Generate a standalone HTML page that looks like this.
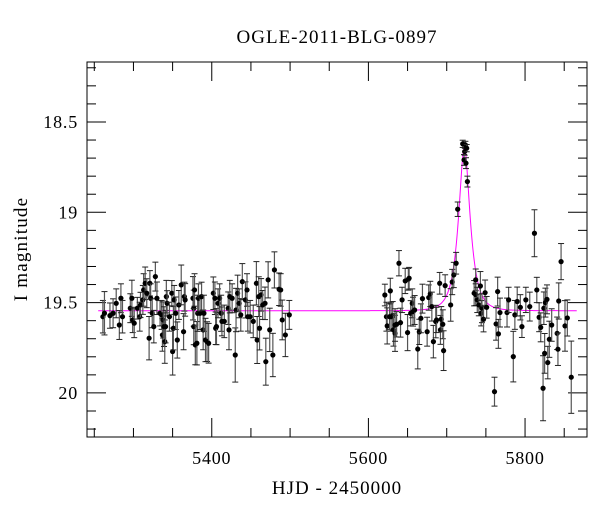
<!DOCTYPE html>
<html><head><meta charset="utf-8"><style>
html,body{margin:0;padding:0;background:#fff;}
svg text{font-family:"Liberation Serif",serif;fill:#000;}
</style></head><body>
<svg id="chart" width="600" height="512" viewBox="0 0 600 512">
<rect width="600" height="512" fill="#fff"/>
<text x="337" y="43" font-size="19" letter-spacing="1" text-anchor="middle">OGLE-2011-BLG-0897</text>
<text x="337" y="494" font-size="19" letter-spacing="1" text-anchor="middle">HJD - 2450000</text>
<text transform="translate(27,249) rotate(-90)" font-size="19" letter-spacing="1.2" text-anchor="middle">I magnitude</text>
<g id="axes"></g><g id="marks"></g>
</svg>
<script>
const tData=[5261,5263,5270,5274,5278,5282,5284,5286,5296,5298,5299,5301,5305,5308,5309,5312,5313,5315,5317,5320,5321,5322,5324,5326,5328,5330,5334,5336,5337,5338,5339,5340,5341,5342,5343,5346,5349,5350,5351,5352,5354,5356,5358,5361,5364,5365,5366,5376,5377,5377,5378,5379,5381,5382,5383,5385,5387,5389,5390,5392,5394,5396,5402,5404,5405,5406,5408,5410,5412,5413,5416,5421,5422,5423,5426,5430,5431,5433,5435,5437,5439,5443,5445,5446,5449,5453,5457,5458,5460,5461,5463,5465,5468,5469,5472,5474,5478,5480,5486,5488,5490,5494,5499,
5621,5623,5624,5627,5628,5629,5631,5632,5634,5634,5636,5639,5641,5643,5647,5650,5651,5652,5654,5656,5657,5659,5663,5665,5667,5669,5675,5677,5679,5681,5683,5686,5687,5691,5692,5693,5695,5696,5698,5705,5707,5709,5712,5714,5720.4,5722.1,5722.9,5723.8,5724.6,5725.5,5726.4,5735,5737,5737,5739,5741,5743,5744,5745,5747,5749,5751,5761,5763,5765,5766,5768,5777,5779,5785,5787,5790,5794,5796,5801,5806,5812,5815,5818,5820,5823,5824,5825,5826,5828,5829,5831,5834,5841,5842,5843,5846,5851,5854,5859];
const magData=[19.578,19.559,19.572,19.559,19.504,19.624,19.476,19.578,19.531,19.476,19.596,19.614,19.531,19.578,19.513,19.485,19.430,19.393,19.448,19.697,19.393,19.476,19.559,19.633,19.356,19.476,19.559,19.568,19.679,19.596,19.633,19.716,19.633,19.467,19.504,19.578,19.448,19.771,19.642,19.485,19.559,19.707,19.513,19.402,19.661,19.467,19.485,19.476,19.531,19.633,19.430,19.734,19.725,19.559,19.476,19.559,19.467,19.651,19.559,19.707,19.716,19.725,19.448,19.476,19.642,19.633,19.504,19.476,19.559,19.604,19.604,19.531,19.651,19.467,19.476,19.790,19.541,19.448,19.504,19.568,19.384,19.485,19.430,19.578,19.578,19.604,19.393,19.707,19.467,19.642,19.457,19.513,19.504,19.827,19.374,19.651,19.790,19.319,19.426,19.430,19.596,19.679,19.568,
19.458,19.578,19.629,19.578,19.435,19.578,19.574,19.651,19.670,19.624,19.620,19.282,19.611,19.485,19.380,19.666,19.371,19.365,19.559,19.504,19.550,19.541,19.757,19.662,19.587,19.478,19.661,19.472,19.452,19.522,19.716,19.605,19.596,19.393,19.651,19.592,19.620,19.766,19.406,19.513,19.386,19.347,19.282,18.983,18.621,18.710,18.664,18.627,18.728,18.645,18.830,19.448,19.374,19.456,19.485,19.513,19.408,19.559,19.531,19.592,19.445,19.526,19.993,19.618,19.439,19.673,19.555,19.555,19.485,19.799,19.568,19.494,19.526,19.633,19.485,19.522,19.116,19.430,19.581,19.637,19.974,19.531,19.781,19.500,19.482,19.832,19.703,19.624,19.670,19.758,19.491,19.273,19.629,19.585,19.913];
const errData=[0.09,0.12,0.07,0.08,0.08,0.08,0.08,0.09,0.08,0.10,0.07,0.08,0.06,0.08,0.07,0.08,0.09,0.09,0.08,0.12,0.07,0.08,0.08,0.09,0.08,0.09,0.07,0.08,0.09,0.10,0.11,0.12,0.09,0.09,0.07,0.08,0.07,0.13,0.12,0.08,0.09,0.10,0.08,0.11,0.10,0.08,0.09,0.12,0.10,0.10,0.09,0.11,0.12,0.10,0.08,0.09,0.08,0.11,0.10,0.12,0.11,0.11,0.09,0.09,0.09,0.10,0.08,0.08,0.10,0.08,0.09,0.09,0.11,0.09,0.08,0.15,0.12,0.10,0.08,0.09,0.10,0.10,0.09,0.08,0.09,0.09,0.12,0.13,0.11,0.12,0.09,0.08,0.09,0.13,0.10,0.12,0.12,0.10,0.09,0.09,0.11,0.12,0.08,
0.06,0.08,0.10,0.07,0.07,0.08,0.08,0.09,0.10,0.09,0.07,0.07,0.08,0.07,0.07,0.10,0.06,0.06,0.07,0.08,0.08,0.08,0.11,0.07,0.08,0.08,0.08,0.07,0.07,0.08,0.09,0.09,0.07,0.06,0.08,0.07,0.08,0.11,0.06,0.09,0.07,0.07,0.06,0.04,0.02,0.03,0.02,0.02,0.03,0.02,0.03,0.07,0.06,0.06,0.07,0.06,0.08,0.07,0.08,0.07,0.07,0.06,0.08,0.09,0.08,0.08,0.08,0.08,0.07,0.14,0.08,0.08,0.07,0.06,0.07,0.08,0.13,0.07,0.08,0.08,0.18,0.09,0.11,0.08,0.08,0.09,0.10,0.09,0.09,0.09,0.10,0.10,0.14,0.10,0.20];
const xTicks=[5400,5600,5800];
const yTicks=[18.5,19,19.5,20];
const yTickLabels=["18.5","19","19.5","20"];
const model={base:19.545,t0:5722.5,u0:0.47,tE:13};

const L=87,R=587,T=62,B=437;
const xMin=5240.7,xMax=5879.1,yMin=18.168,yMax=20.244;
const X=t=>L+(t-xMin)/(xMax-xMin)*(R-L);
const Y=m=>T+(m-yMin)/(yMax-yMin)*(B-T);
const NS="http://www.w3.org/2000/svg";
const ax=document.getElementById('axes'),mk=document.getElementById('marks');
function mkEl(tag,a,p){const e=document.createElementNS(NS,tag);for(const k in a)e.setAttribute(k,a[k]);p.appendChild(e);return e;}

const frame=mkEl('rect',{x:L,y:T,width:R-L,height:B-T,fill:'none',stroke:'#000','stroke-width':1},ax);


for(let t=5250;t<=5875;t+=50){
  const maj=xTicks.includes(t),len=maj?19:9,x=X(t);
  const a=mkEl('line',{x1:x,x2:x,y1:B,y2:B-len,stroke:'#000'},ax);
  
  
  const b=mkEl('line',{x1:x,x2:x,y1:T,y2:T+len,stroke:'#000'},ax);
  
  
}
xTicks.forEach(t=>{const e=mkEl('text',{x:X(t),y:464,'font-size':18,'letter-spacing':0.8,'text-anchor':'middle'},ax);e.textContent=String(t);
  
  });
for(let i=0;i<=21;i++){
  const m=18.2+i*0.1;if(m>yMax)break;
  const maj=Math.abs(m*2-Math.round(m*2))<1e-6,len=maj?19:9,y=Y(m);
  const a=mkEl('line',{x1:L,x2:L+len,y1:y,y2:y,stroke:'#000'},ax);
  
  
  const b=mkEl('line',{x1:R,x2:R-len,y1:y,y2:y,stroke:'#000'},ax);
  
  
}
yTicks.forEach((m,i)=>{const e=mkEl('text',{x:78,y:Y(m)+6,'font-size':18,'letter-spacing':0.8,'text-anchor':'end'},ax);e.textContent=yTickLabels[i];
  
  });

function modelMag(t){const tau=(t-model.t0)/model.tE,u=Math.sqrt(model.u0*model.u0+tau*tau);
  const A=(u*u+2)/(u*Math.sqrt(u*u+4));return model.base-2.5*Math.log10(A);}
let d='';for(let t=5255;t<=5866;t+=0.5){d+=(d?'L':'M')+X(t).toFixed(2)+','+Y(modelMag(t)).toFixed(2);}
const ml=mkEl('path',{d:d,fill:'none',stroke:'#ff00ff','stroke-width':1},mk);



tData.forEach((t,i)=>{
  const x=X(t),y=Y(magData[i]),y1=Y(magData[i]-errData[i]),y2=Y(magData[i]+errData[i]);
  const g=mkEl('g',{},mk);
  
  
  mkEl('line',{x1:x,x2:x,y1:y1,y2:y2,stroke:'#555','stroke-width':1.2},g);
  mkEl('line',{x1:x-3,x2:x+3,y1:y1,y2:y1,stroke:'#222','stroke-width':1},g);
  mkEl('line',{x1:x-3,x2:x+3,y1:y2,y2:y2,stroke:'#222','stroke-width':1},g);
  mkEl('circle',{cx:x,cy:y,r:2.6,fill:'#000'},g);
});
</script>
</body></html>
